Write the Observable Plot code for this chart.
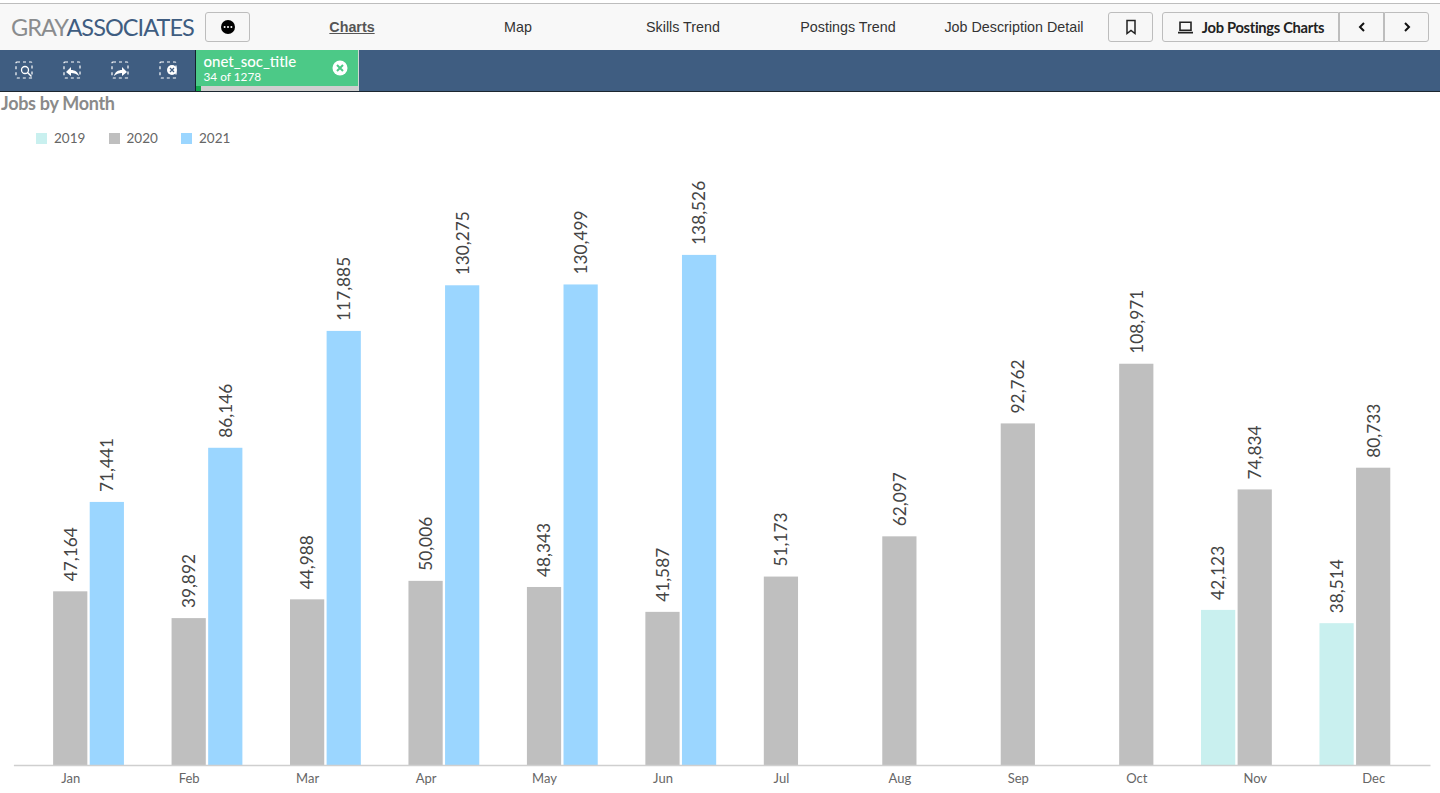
<!DOCTYPE html>
<html>
<head>
<meta charset="utf-8">
<script src="https://cdn.jsdelivr.net/npm/d3@7"></script>
<script src="https://cdn.jsdelivr.net/npm/@observablehq/plot@0.6"></script>
<style>
html,body{margin:0;padding:0;background:#fff;overflow:hidden}
#page{position:relative;width:1440px;height:793px;font-family:Lato,sans-serif;overflow:hidden}
#chart{position:absolute;left:0;top:0}
.abs{position:absolute}
#topline{left:0;top:3px;width:1440px;height:1px;background:#bdbdbd}
#header{left:0;top:4px;width:1440px;height:46px;background:#f8f8f8}
#bar{left:0;top:50px;width:1440px;height:41px;background:#3f5d81}
#barline{left:0;top:91px;width:1440px;height:1px;background:#1c2630}
#logo{left:11px;top:12px;font-size:23.5px;line-height:30px;letter-spacing:-0.95px;white-space:nowrap;color:#8a8c8e}
#logo b{font-weight:400;color:#3f5d81}
.btn{top:12px;height:30px;box-sizing:border-box;border:1px solid #bdbdbd;border-radius:3px;background:#f7f7f7;display:flex;align-items:center;justify-content:center;color:#222;font-size:14.7px;font-weight:700;letter-spacing:-0.3px}
.btn svg{display:block}
.nav{top:17px;font-family:"Liberation Sans",Arial,sans-serif;font-size:14.3px;line-height:20px;color:#333;transform:translateX(-50%);white-space:nowrap}
#tabs{left:195px;top:50px;width:162px;height:41px;background:#4cc987;border-left:1px solid #14202c;border-right:1px solid #cfd8d2;color:#fff}
#tabname{position:absolute;left:7.5px;top:3px;font-size:15px;line-height:16px;font-weight:500}
#tabsub{position:absolute;left:7.5px;top:21px;font-size:11.8px;line-height:12px}
#tabbar{position:absolute;left:0;top:36px;width:162px;height:5px;background:#cfcfcf}
#tabbar i{position:absolute;left:0;top:0;width:5px;height:5px;background:#12a84e}
#title{left:1px;top:92px;font-size:18px;line-height:22px;font-weight:700;color:#8a8a8a;letter-spacing:-0.3px}
#legend{left:36px;top:130px;display:flex;font-size:13.5px;line-height:17px;color:#666}
#legend span{display:flex;align-items:center;width:72.5px}
#legend i{display:block;width:11px;height:11px;margin-right:7px}
</style>
</head>
<body>
<div id="page">
  <div id="chart"></div>
  <div class="abs" id="topline"></div>
  <div class="abs" id="header"></div>
  <div class="abs" id="bar"></div>
  <div class="abs" id="barline"></div>
  <div class="abs" id="logo">GRAY<b>ASSOCIATES</b></div>
  <div class="abs btn" style="left:205px;width:45px"><svg width="16" height="16" viewBox="0 0 16 16"><circle cx="8" cy="8" r="7" fill="#000"/><circle cx="4.6" cy="8" r="1" fill="#fff"/><circle cx="8" cy="8" r="1" fill="#fff"/><circle cx="11.4" cy="8" r="1" fill="#fff"/></svg></div>
  <div class="abs nav" style="left:352px;font-weight:700;text-decoration:underline;color:#555">Charts</div>
  <div class="abs nav" style="left:518px">Map</div>
  <div class="abs nav" style="left:683px">Skills Trend</div>
  <div class="abs nav" style="left:848px">Postings Trend</div>
  <div class="abs nav" style="left:1014px">Job Description Detail</div>
  <div class="abs btn" style="left:1108px;width:45px"><svg width="12" height="16" viewBox="0 0 12 16"><path d="M2 1.5h8v13l-4-3-4 3z" fill="none" stroke="#222" stroke-width="1.5"/></svg></div>
  <div class="abs btn" style="left:1162px;width:177px;border-radius:3px 0 0 3px"><svg width="17" height="13" viewBox="0 0 17 13" style="margin-right:8px"><path d="M3 1.2h11v8H3zM1 11.6h15" fill="none" stroke="#222" stroke-width="1.6"/></svg>Job Postings Charts</div>
  <div class="abs btn" style="left:1339px;width:45px;border-radius:0"><svg width="10" height="12" viewBox="0 0 10 12"><path d="M7 2L3 6l4 4" fill="none" stroke="#111" stroke-width="2"/></svg></div>
  <div class="abs btn" style="left:1384px;width:45px;border-radius:0 3px 3px 0"><svg width="10" height="12" viewBox="0 0 10 12"><path d="M3 2l4 4-4 4" fill="none" stroke="#111" stroke-width="2"/></svg></div>
  <svg class="abs" style="left:14px;top:60px" width="170" height="20" viewBox="0 0 170 20" fill="none">
    <g stroke="#fff" stroke-width="1.2" stroke-dasharray="3 3"><rect x="2" y="2" width="16" height="16" rx="1"/><rect x="50" y="2" width="16" height="16" rx="1"/><rect x="98" y="2" width="16" height="16" rx="1"/><rect x="146" y="2" width="16" height="16" rx="1"/></g>
    <circle cx="11" cy="10" r="3.5" stroke="#fff" stroke-width="1.3"/><path d="M13.5 12.5l4 4" stroke="#fff" stroke-width="1.5"/>
    <path d="M65 16c-1-4-4-6-8-6v-3l-5 5 5 4v-3c3 0 6 1 8 3z" fill="#fff"/>
    <path d="M100 16c1-4 4-6 8-6v-3l5 5-5 4v-3c-3 0-6 1-8 3z" fill="#fff"/>
    <circle cx="158" cy="10" r="5" fill="#fff"/><path d="M156 8l4 4M160 8l-4 4" stroke="#3f5d81" stroke-width="1.3"/>
  </svg>
  <div class="abs" id="tabs">
    <div id="tabname">onet_soc_title</div>
    <div id="tabsub">34 of 1278</div>
    <svg style="position:absolute;left:136px;top:10px" width="16" height="16" viewBox="0 0 16 16"><circle cx="8" cy="8" r="7.5" fill="#fff"/><path d="M5 5l6 6M11 5l-6 6" stroke="#4cc987" stroke-width="2"/></svg>
    <div id="tabbar"><i></i></div>
  </div>
  <div class="abs" id="title">Jobs by Month</div>
  <div class="abs" id="legend"></div>
</div>
<script>
const months = ["Jan","Feb","Mar","Apr","May","Jun","Jul","Aug","Sep","Oct","Nov","Dec"];
const years = ["2019","2020","2021"];
const colors = ["#c9f0ef","#bfbfbf","#9bd6ff"];
const values2019 = [null,null,null,null,null,null,null,null,null,null,42123,38514];
const values2020 = [47164,39892,44988,50006,48343,41587,51173,62097,92762,108971,74834,80733];
const values2021 = [71441,86146,117885,130275,130499,138526,null,null,null,null,null,null];

const rows = [];
[values2019, values2020, values2021].forEach((vals, i) => {
  vals.forEach((v, m) => { if (v != null) rows.push({month: months[m], year: years[i], value: v}); });
});

d3.select("#legend").selectAll("span").data(years).join("span")
  .html((d, i) => `<i style="background:${colors[i]}"></i>${d}`);

const chart = Plot.plot({
  width: 1440,
  height: 793,
  marginTop: 139,
  marginBottom: 28,
  marginLeft: 11,
  marginRight: 7.6,
  style: {fontFamily: "Lato, sans-serif", background: "transparent"},
  fx: {domain: months, paddingInner: 0.053, paddingOuter: 0.0265, round: false, label: null, axis: null},
  x: {domain: years, padding: 0.065, round: false, axis: null},
  y: {domain: [0, 170000], axis: null},
  color: {domain: years, range: colors},
  marks: [
    Plot.barY(rows, {fx: "month", x: "year", y: "value", fill: "year"}),
    Plot.text(rows, {
      fx: "month", x: "year", y: "value",
      text: d => d3.format(",")(d.value),
      rotate: -90, textAnchor: "start", dx: 0.3, dy: -10.5,
      fontSize: 17.3, fill: "#444"
    }),
    Plot.frame({anchor: "bottom", stroke: "#cfcfcf", strokeWidth: 1.5, facet: "super"}),
    Plot.axisFx({anchor: "bottom", tickSize: 0, tickPadding: 8, label: null, fontSize: 13, color: "#666"})
  ]
});
document.getElementById("chart").appendChild(chart);
</script>
</body>
</html>
